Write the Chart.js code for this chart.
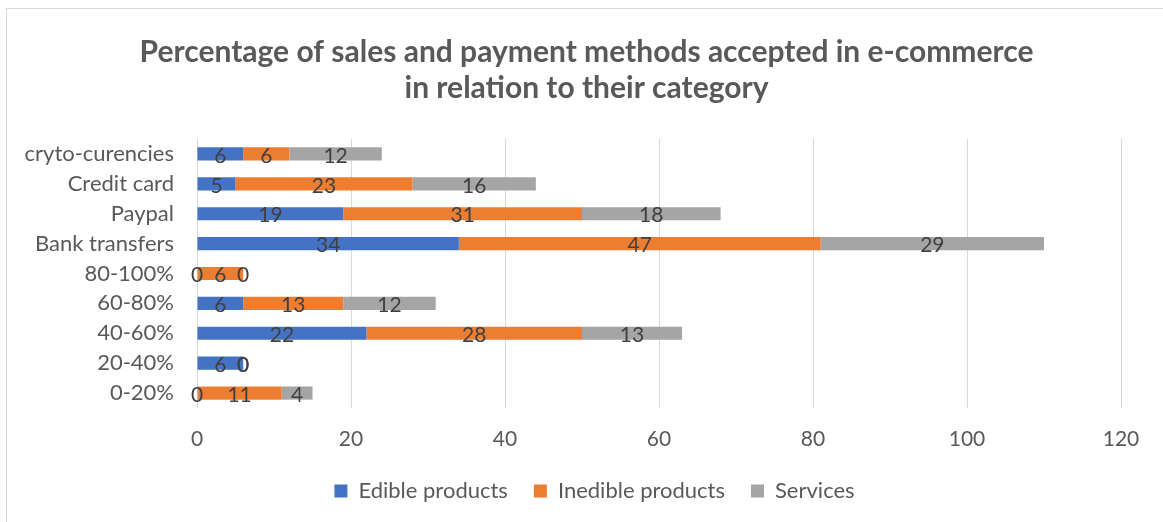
<!DOCTYPE html>
<html>
<head>
<meta charset="utf-8">
<script src="https://cdn.jsdelivr.net/npm/chart.js@4.4.0/dist/chart.umd.min.js"></script>
<style>
  html, body { margin: 0; padding: 0; background: #fff; }
  #wrap { position: relative; width: 1163px; height: 522px; overflow: hidden; }
  #frame { position: absolute; left: 6px; top: 8px; width: 1200px; height: 600px; border: 1px solid #d9d9d9; box-sizing: border-box; }
  canvas { position: absolute; left: 0; top: 0; }
</style>
</head>
<body>
<div id="wrap">
  <div id="frame"></div>
  <canvas id="myChart" width="1163" height="522"></canvas>
</div>
<script>
const categories = ['cryto-curencies', 'Credit card', 'Paypal', 'Bank transfers', '80-100%', '60-80%', '40-60%', '20-40%', '0-20%'];
const edible = [6, 5, 19, 34, 0, 6, 22, 6, 0];
const inedible = [6, 23, 31, 47, 6, 13, 28, 0, 11];
const services = [12, 16, 18, 29, 0, 12, 13, 0, 4];
const xTicks = [0, 20, 40, 60, 80, 100, 120];

const FONT = 'Lato, Calibri, sans-serif';

const barLabels = {
    id: 'barLabels',
    afterDatasetsDraw(chart) {
        const ctx = chart.ctx;
        ctx.save();
        ctx.font = `21px ${FONT}`;
        ctx.fillStyle = '#404040';
        ctx.textAlign = 'center';
        ctx.textBaseline = 'middle';
        chart.data.datasets.forEach((ds, i) => {
            const meta = chart.getDatasetMeta(i);
            meta.data.forEach((bar, j) => {
                const cx = (bar.x + bar.base) / 2;
                ctx.fillText(String(ds.data[j]), cx, bar.y + 2);
            });
        });
        ctx.restore();
    }
};

// nudge title and legend to the right, as in the original chart
const shiftBoxes = {
    id: 'shiftBoxes',
    afterLayout(chart) {
        if (chart.titleBlock) { chart.titleBlock.left += 26; chart.titleBlock.right += 26; }
        if (chart.legend) { chart.legend.left += 34; chart.legend.right += 34; }
    }
};

const ctx = document.getElementById('myChart');
new Chart(ctx, {
    type: 'bar',
    data: {
        labels: categories,
        datasets: [
            { label: 'Edible products', data: edible, backgroundColor: '#4472C4' },
            { label: 'Inedible products', data: inedible, backgroundColor: '#ED7D31' },
            { label: 'Services', data: services, backgroundColor: '#A5A5A5' }
        ]
    },
    options: {
        indexAxis: 'y',
        responsive: false,
        animation: false,
        devicePixelRatio: 1,
        datasets: { bar: { barPercentage: 0.44, categoryPercentage: 1 } },
        layout: { padding: { left: 0, right: 42, top: 0, bottom: 10 } },
        scales: {
            x: {
                stacked: true,
                min: 0,
                max: 120,
                afterBuildTicks: (scale) => { scale.ticks = xTicks.map(v => ({ value: v })); },
                afterFit: (scale) => { scale.height = 46; },
                grid: { color: '#d9d9d9', drawTicks: false },
                border: { display: false },
                ticks: { color: '#595959', font: { family: FONT, size: 21 }, padding: 19 }
            },
            y: {
                stacked: true,
                afterFit: (scale) => { scale.width = 197; },
                grid: { display: false, drawTicks: false },
                border: { display: false },
                ticks: { color: '#595959', font: { family: FONT, size: 22 }, padding: 23 }
            }
        },
        plugins: {
            title: {
                display: true,
                text: ['Percentage of sales and payment methods accepted in e-commerce', 'in relation to their category'],
                color: '#595959',
                font: { family: FONT, size: 30, weight: 'bold', lineHeight: 1.2 },
                padding: { top: 34, bottom: 33 }
            },
            legend: {
                position: 'bottom',
                labels: {
                    color: '#595959',
                    font: { family: FONT, size: 22 },
                    boxWidth: 13,
                    boxHeight: 13,
                    padding: 26
                }
            },
            tooltip: { enabled: false }
        }
    },
    plugins: [barLabels, shiftBoxes]
});
</script>
</body>
</html>
